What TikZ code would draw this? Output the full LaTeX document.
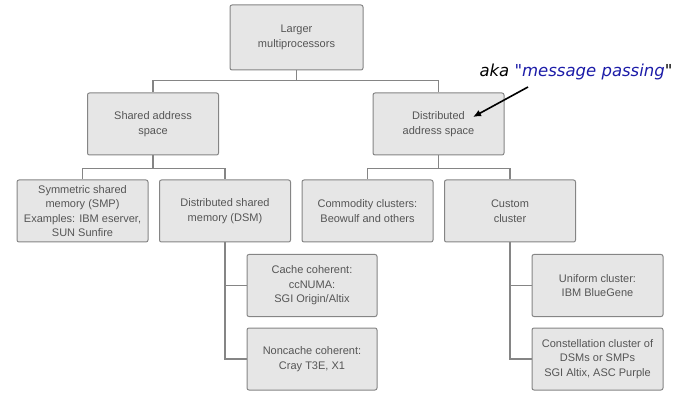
\documentclass[tikz,border=0pt]{standalone}
\usepackage{fontspec}
\setmainfont{Liberation Sans}
\newfontfamily\annfont{DejaVu Sans}
\usetikzlibrary{arrows.meta}
\definecolor{boxfill}{HTML}{E6E6E6}
\definecolor{boxline}{HTML}{858585}
\definecolor{boxtext}{HTML}{555555}
\definecolor{annblue}{HTML}{1C1CA8}
\begin{document}
\begin{tikzpicture}[x=1pt,y=-1pt,
  box/.style={draw=boxline, fill=boxfill, line width=1pt, rounded corners=2pt,
    minimum width=131pt, minimum height=62pt, inner sep=0pt, align=center,
    text=boxtext, font=\fontsize{11}{14.5}\selectfont},
  link/.style={draw=boxline, line width=1.3pt}]
\useasboundingbox (0,0) rectangle (681,393);
\node[box, minimum width=133pt, minimum height=65pt] (top) at (296.5,37.5) {Larger\\multiprocessors};
\node[box] (shared) at (153,124) {Shared address\\space};
\node[box] (dist) at (438.5,124) {Distributed\\address space};
\node[box] (smp) at (82.5,211) {Symmetric shared\\memory (SMP)\\Examples: IBM eserver,\\SUN Sunfire};
\node[box] (dsm) at (225,211) {Distributed shared\\memory (DSM)};
\node[box] (comm) at (367.5,211) {Commodity clusters:\\Beowulf and others};
\node[box] (custom) at (510,211) {Custom\\cluster};
\node[box, minimum width=130pt] (cache) at (312,285.5) {Cache coherent:\\ccNUMA:\\SGI Origin/Altix};
\node[box, minimum width=130pt] (noncache) at (312,359) {Noncache coherent:\\Cray T3E, X1};
\node[box] (uniform) at (597.5,285.5) {Uniform cluster:\\IBM BlueGene};
\node[box] (const) at (597.5,359) {Constellation cluster of\\DSMs or SMPs\\SGI Altix, ASC Purple};
\draw[link] (top.south) -- ++(0,10) -| (shared.north);
\draw[link] (top.south) -- ++(0,10) -| (dist.north);
\draw[link] (shared.south) -- ++(0,13) -| (smp.north);
\draw[link] (shared.south) -- ++(0,13) -| (dsm.north);
\draw[link] (dist.south) -- ++(0,13) -| (comm.north);
\draw[link] (dist.south) -- ++(0,13) -| (custom.north);
\draw[link] (dsm.south) |- (cache.west);
\draw[link] (dsm.south) |- (noncache.west);
\draw[link] (custom.south) |- (uniform.west);
\draw[link] (custom.south) |- (const.west);
\node[inner sep=0pt, font=\annfont\itshape\fontsize{16.5}{18}\selectfont] (aka) at (576,72)
  {aka \textcolor{annblue}{"message passing}"};
\coordinate (arrstart) at (528,87);
\coordinate (arrtip) at (473,117);
\draw[line width=1.6pt, -{Latex[length=8pt,width=7pt]}] (arrstart) -- (arrtip);
\end{tikzpicture}
\end{document}
